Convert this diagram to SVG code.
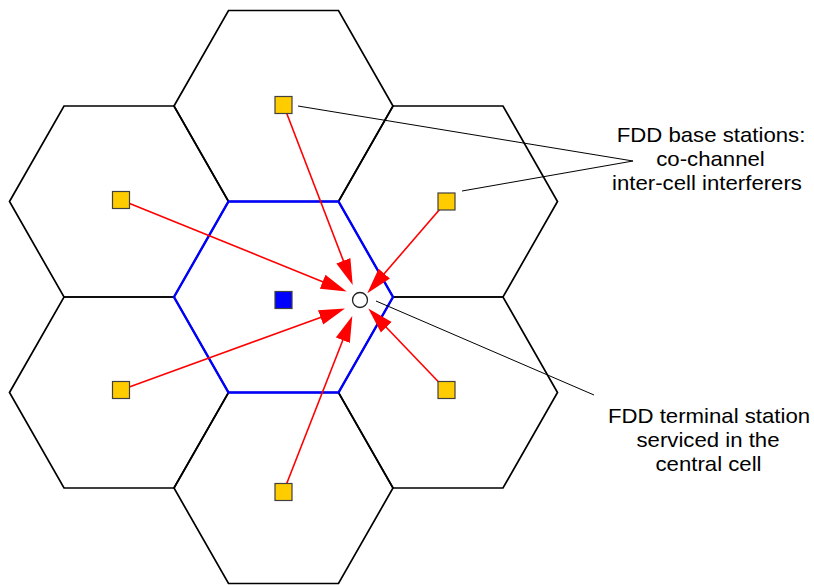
<svg xmlns="http://www.w3.org/2000/svg" width="814" height="585" viewBox="0 0 814 585">
<style>
.cell{fill:none;stroke:#000;stroke-width:1.7;stroke-linejoin:miter}
.central{fill:none;stroke:#0000FF;stroke-width:2.4}
.bs{fill:#FFCC00;stroke:#404040;stroke-width:1.2}
.own{fill:#0000FF;stroke:#404040;stroke-width:1.2}
.term{fill:#fff;stroke:#222;stroke-width:1.3}
.intf{stroke:#FF0000;stroke-width:1.6;fill:none;marker-end:url(#ah)}
.call{stroke:#000;stroke-width:1;fill:none}
.lbl{font-family:"Liberation Sans",Arial,Helvetica,sans-serif;font-size:20px;fill:#000;text-anchor:middle}
</style>
<defs>
<marker id="ah" markerUnits="userSpaceOnUse" markerWidth="26" markerHeight="16" viewBox="0 0 26 16" refX="16" refY="8" orient="auto">
<path d="M0,0.5 L26,8 L0,15.5 z" fill="#FF0000"/>
</marker>
</defs>
<g id="cells">
<g id="cell-top"><polygon class="cell" points="174,106 228.5,10.5 338.5,10.5 393,106 338.5,201.5 228.5,201.5"/></g>
<g id="cell-upper-left"><polygon class="cell" points="9.5,201.5 64,106 174,106 228.5,201.5 174,297 64,297"/></g>
<g id="cell-upper-right"><polygon class="cell" points="338.5,201.5 393,106 503,106 557.5,201.5 503,297 393,297"/></g>
<g id="cell-lower-left"><polygon class="cell" points="9.5,392.5 64,297 174,297 228.5,392.5 174,488 64,488"/></g>
<g id="cell-lower-right"><polygon class="cell" points="338.5,392.5 393,297 503,297 557.5,392.5 503,488 393,488"/></g>
<g id="cell-bottom"><polygon class="cell" points="174,488 228.5,392.5 338.5,392.5 393,488 338.5,583.5 228.5,583.5"/></g>
<g id="cell-central"><polygon class="central" points="174,297 228.5,201.5 338.5,201.5 393,297 338.5,392.5 228.5,392.5"/></g>
</g>
<g id="connectors">
<line class="intf" x1="283.5" y1="105" x2="349.11" y2="275.67"/>
<line class="intf" x1="121" y1="200" x2="337.43" y2="287.74"/>
<line class="intf" x1="446.5" y1="201.5" x2="373.83" y2="285.73"/>
<line class="intf" x1="121" y1="390" x2="335.6" y2="311.92"/>
<line class="intf" x1="283.5" y1="491.7" x2="348.65" y2="325.31"/>
<line class="intf" x1="446.3" y1="390" x2="375.21" y2="315.73"/>
<line class="call" x1="298" y1="106" x2="633" y2="161"/>
<line class="call" x1="462" y1="191" x2="633" y2="161"/>
<line class="call" x1="376" y1="301" x2="594" y2="395"/>
</g>
<g id="bs-top"><rect class="bs" x="275" y="96.5" width="17" height="17"/></g>
<g id="bs-upper-left"><rect class="bs" x="112.5" y="191.5" width="17" height="17"/></g>
<g id="bs-upper-right"><rect class="bs" x="438" y="193" width="17" height="17"/></g>
<g id="bs-lower-left"><rect class="bs" x="112.5" y="381.5" width="17" height="17"/></g>
<g id="bs-lower-right"><rect class="bs" x="438" y="381.5" width="17" height="17"/></g>
<g id="bs-bottom"><rect class="bs" x="275" y="483.5" width="17" height="17"/></g>
<g id="bs-central"><rect class="own" x="275" y="291.5" width="17" height="17"/></g>
<g id="terminal"><circle class="term" cx="360" cy="300" r="7.5"/></g>
<g id="label-interferers">
<text class="lbl" transform="translate(711,142) scale(1.11,1)">FDD base stations:</text>
<text class="lbl" transform="translate(710.5,166) scale(1.11,1)">co-channel</text>
<text class="lbl" transform="translate(707,190) scale(1.11,1)">inter-cell interferers</text>
</g>
<g id="label-terminal">
<text class="lbl" transform="translate(709,423) scale(1.11,1)">FDD terminal station</text>
<text class="lbl" transform="translate(708,447) scale(1.11,1)">serviced in the</text>
<text class="lbl" transform="translate(708.5,471) scale(1.11,1)">central cell</text>
</g>
</svg>
